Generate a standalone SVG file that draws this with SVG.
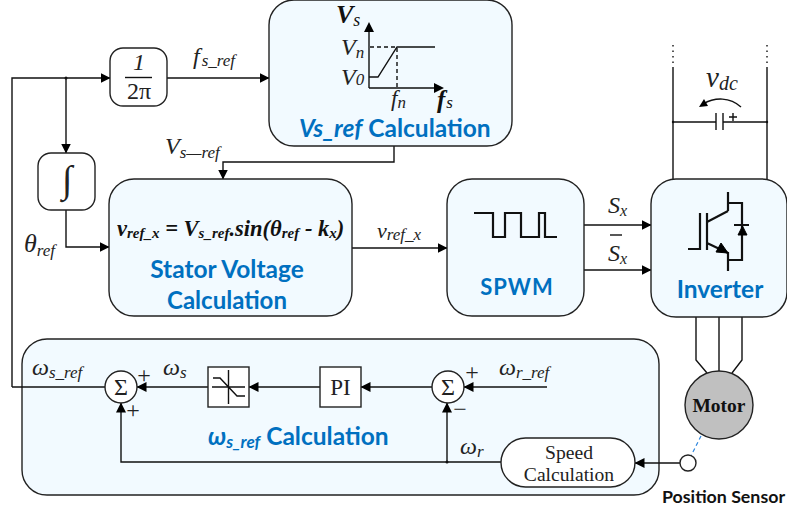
<svg xmlns="http://www.w3.org/2000/svg" width="787" height="511" viewBox="0 0 787 511">
<style>
.box{fill:#f2faff;stroke:#222;stroke-width:1.4}
.w{fill:#fff;stroke:#222;stroke-width:1.4}
.l{fill:none;stroke:#111;stroke-width:1.4}
.t{fill:none;stroke:#111;stroke-width:2.2}
.a{fill:none;stroke:#111;stroke-width:1.4;marker-end:url(#ah)}
text{font-family:"Liberation Serif","Times New Roman",serif;fill:#222}
.i{font-style:italic}
.b{font-weight:bold;fill:#111}
.h{font-family:Lato,"Open Sans",sans-serif;font-weight:bold;fill:#0070c0;font-size:24.500px}
.m{text-anchor:middle}
</style>
<defs>
<marker id="ah" markerWidth="10" markerHeight="10" refX="9.5" refY="5" orient="auto" markerUnits="userSpaceOnUse"><path d="M0,0 L10,5 L0,10 Z" fill="#000"/></marker>
</defs>
<g id="calc-omega"><rect class="box" x="22" y="339" width="637" height="156" rx="25"/></g>
<g id="connectors">
<path class="a" d="M12,387 V78 H110"/>
<path class="a" d="M66,78 V153"/>
<circle cx="66" cy="78" r="1.5" fill="#111"/>
<path class="a" d="M167,78 H269"/>
<path class="a" d="M66,210 V247 H109"/>
<path class="a" d="M394,146 V162 H223 V179"/>
<path class="a" d="M352,248 H447"/>
<path class="a" d="M584,225 H651"/>
<path class="a" d="M584,270 H651"/>
<path class="l" d="M12,387 H105"/>
<path class="a" d="M208,387 H137"/>
<path class="a" d="M320,387 H249"/>
<path class="a" d="M432,387 H361"/>
<path class="a" d="M547,387 H464"/>
<path class="a" d="M447,462 V403"/>
<circle cx="447" cy="462" r="1.5" fill="#111"/>
<path class="a" d="M501,462 H121 V403"/>
<path class="a" d="M680,463 H635"/>
<path class="l" d="M673,179 V68 M767,179 V68 M673,122 H716 M723,122 H767 M716,113 V130 M723,113 V130"/>
<path class="l" stroke-dasharray="1.5 4" d="M673,45 V68 M767,45 V68"/>
<circle cx="673" cy="122" r="1.2" fill="#111"/><circle cx="767" cy="122" r="1.2" fill="#111"/>
<path class="l" d="M729,117 H737 M733,113 V121"/>
<path class="l" d="M741,107 C730,97 715,97 703,104"/>
<path d="M699,107 L704,99 L708,106 Z" fill="#000"/>
<path class="l" d="M696,317 V360 L707,373 M719,317 V371 M742,317 V360 L732,373"/>
<path fill="none" stroke="#2e86de" stroke-width="1.2" stroke-dasharray="4 3" d="M701,436 L691,456"/>
</g>
<g id="label-vdc"><text x="706" y="87" class="i" font-size="29">v<tspan font-size="20" dy="3">dc</tspan></text></g>
<g id="calc-vs">
<rect class="box" x="269" y="0" width="243" height="146" rx="25"/>
<path class="l" stroke-width="1.6" d="M369,88 V30 M369,88 H436 M369,77 H378 L397,47 H435"/>
<path d="M369,22 L374,32 H364 Z M444,88 L434,83 V93 Z" fill="#000"/>
<path class="l" stroke-dasharray="4 3" d="M370,47 H397 V88"/>
<text x="336" y="23" class="i b" font-size="26">V<tspan font-size="18" dy="3" font-weight="normal">s</tspan></text>
<text x="341" y="55" class="i" font-size="24">V<tspan font-size="17" dy="3">n</tspan></text>
<text x="341" y="85" class="i" font-size="24">V<tspan font-size="17" dy="0">0</tspan></text>
<text x="391" y="106" class="i" font-size="23">f<tspan font-size="17" dy="2">n</tspan></text>
<text x="437" y="108" class="i b" font-size="25">f<tspan font-size="17" dy="0" dx="1" font-weight="normal">s</tspan></text>
<text x="299" y="137" class="h"><tspan font-style="italic">Vs_ref</tspan> Calculation</text>
</g>
<g id="node-1-2pi">
<rect class="w" x="110" y="48" width="57" height="58" rx="13"/>
<path class="l" d="M125,77.500 H152"/>
<text x="139" y="70" class="i m" font-size="24">1</text>
<text x="139" y="99" class="m" font-size="24">2π</text>
</g>
<g id="node-integral">
<rect class="w" x="38" y="153" width="57" height="57" rx="13"/>
<text x="67" y="192" class="m" font-size="38">∫</text>
</g>
<g id="label-fref"><text x="193" y="64" class="i" font-size="24">f<tspan font-size="17" dy="2" dx="2">s_ref</tspan></text></g>
<g id="label-vref"><text x="165" y="154" class="i" font-size="24">V<tspan font-size="17" dy="4">s—ref</tspan></text></g>
<g id="label-theta"><text x="24" y="252" class="i" font-size="26">θ<tspan font-size="17" dy="4">ref</tspan></text></g>
<g id="stator">
<rect class="box" x="109" y="179" width="243" height="137" rx="25"/>
<text x="117" y="236" class="i b" font-size="22.500">v<tspan font-size="15" dy="2">ref_x</tspan><tspan dy="-2"> = V</tspan><tspan font-size="15" dy="2">s_ref</tspan><tspan dy="-2">.sin(θ</tspan><tspan font-size="15" dy="2">ref</tspan><tspan dy="-2"> - k</tspan><tspan font-size="15" dy="2">x</tspan><tspan dy="-2">)</tspan></text>
<text x="227" y="278" class="h m">Stator Voltage</text>
<text x="227" y="309" class="h m" style="font-size:24px">Calculation</text>
</g>
<g id="label-vrefx"><text x="377" y="238" class="i" font-size="22">v<tspan font-size="17" dy="2">ref_x</tspan></text></g>
<g id="spwm">
<rect class="box" x="447" y="179" width="137" height="137" rx="25"/>
<path class="t" d="M474,213 H493 V237 H505 V213 H521 V237 H539 V213 H545 V237 H557"/>
<text x="517" y="295" class="h m" style="font-size:22px" letter-spacing="1">SPWM</text>
</g>
<g id="label-sx">
<text x="608" y="213" class="i" font-size="24">S<tspan font-size="16" dy="3">x</tspan></text>
<text x="608" y="261" class="i" font-size="24">S<tspan font-size="16" dy="3">x</tspan></text>
<path class="l" d="M610,235 H622"/>
</g>
<g id="inverter">
<rect class="box" x="651" y="179" width="136" height="138" rx="25"/>
<path class="t" d="M688,249 H700 V213 M707,213 V250 M707,222 L728,211 M728,192 V211 M728,203 H742 V260 H728 M707,243 L728,253 M728,252 V271 M734,225 H749"/>
<path d="M738,235 H747 L742.500,226 Z M728,253 L716,252 L721,243 Z" fill="#000" stroke="#000"/>
<text x="720" y="298" class="h m">Inverter</text>
</g>
<g id="sum-1">
<circle class="w" cx="121" cy="387" r="16"/>
<text x="121" y="395" class="m" font-size="24">Σ</text>
<text x="144" y="383" class="m" font-size="24">+</text>
<text x="133" y="418" class="m" font-size="24">+</text>
</g>
<g id="limiter">
<rect x="208" y="367" width="41" height="40" fill="#fff" stroke="#222" stroke-width="1.4"/>
<path class="l" d="M212,387 H245 M228.500,370 V404 M213,378 H220 L237,396 H245"/>
</g>
<g id="pi">
<rect x="320" y="367" width="41" height="40" fill="#fff" stroke="#222" stroke-width="1.4"/>
<text x="340.500" y="395" class="m" font-size="23">PI</text>
</g>
<g id="sum-2">
<circle class="w" cx="448" cy="387" r="16"/>
<text x="448" y="395" class="m" font-size="24">Σ</text>
<text x="472" y="380" class="m" font-size="24">+</text>
<text x="460" y="417" class="m" font-size="24">−</text>
</g>
<g id="speed">
<rect class="w" x="501" y="438" width="134" height="49" rx="24.500"/>
<text x="569" y="459" class="m" font-size="19.600">Speed</text>
<text x="569" y="481" class="m" font-size="19.600">Calculation</text>
</g>
<g id="omega-labels">
<text x="32" y="375" class="i" font-size="24">ω<tspan font-size="17" dy="3">s_ref</tspan></text>
<text x="163" y="375" class="i" font-size="24">ω<tspan font-size="17" dy="3">s</tspan></text>
<text x="499" y="375" class="i" font-size="24">ω<tspan font-size="17" dy="3">r_ref</tspan></text>
<text x="460" y="454" class="i" font-size="24">ω<tspan font-size="17" dy="3">r</tspan></text>
<text x="208" y="445" class="h" font-style="italic">ω<tspan font-size="17" dy="3">s_ref</tspan><tspan dy="-3" font-style="normal"> Calculation</tspan></text>
</g>
<g id="motor">
<circle cx="719" cy="405" r="34" fill="#c0c0c0" stroke="#222" stroke-width="1.4"/>
<text x="719" y="412" class="b m" font-size="19.500">Motor</text>
</g>
<g id="sensor">
<circle class="w" cx="688" cy="463" r="8"/>
<text x="662" y="503" style="font-family:Lato,'Open Sans',sans-serif;font-weight:bold;font-size:17.800px;fill:#111">Position Sensor</text>
</g>
</svg>
